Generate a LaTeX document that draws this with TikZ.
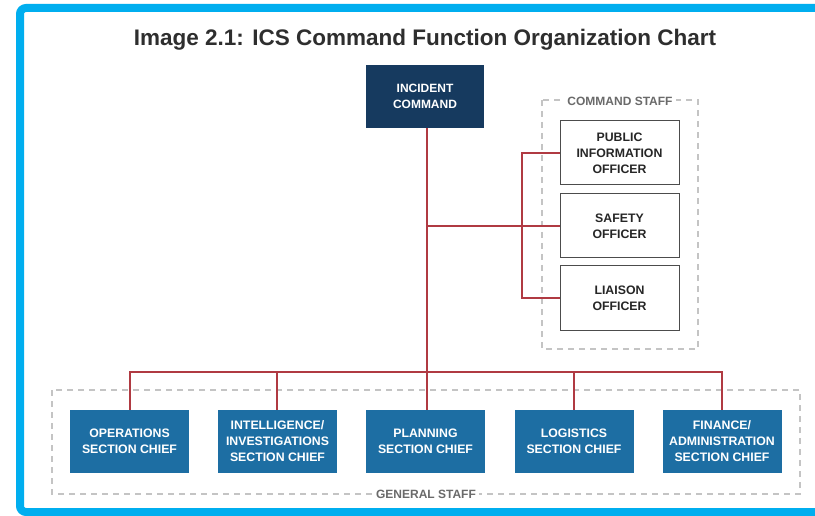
\documentclass[tikz,border=0pt]{standalone}
\usepackage{fontspec}
\setmainfont{Liberation Sans}
\definecolor{frameblue}{HTML}{00AEEF}
\definecolor{navy}{HTML}{163A5F}
\definecolor{secblue}{HTML}{1D6EA3}
\definecolor{linkred}{HTML}{B03A42}
\definecolor{dashgray}{HTML}{C4C4C4}
\definecolor{labgray}{HTML}{6A6A6A}
\definecolor{titlegray}{HTML}{2E2E2E}
\tikzset{
  cmdbox/.style={fill=navy, text=white, font=\fontsize{12}{15.5}\selectfont\bfseries, align=center, inner sep=0pt, minimum width=118pt, minimum height=63pt},
  secbox/.style={fill=secblue, text=white, font=\fontsize{12.3}{16}\selectfont\bfseries, align=center, inner sep=0pt, minimum width=119pt, minimum height=63pt},
  staffbox/.style={draw=black!70, line width=1pt, fill=white, text=black!85, font=\fontsize{12.3}{16}\selectfont\bfseries, align=center, inner sep=0pt, minimum width=119pt, minimum height=64pt},
  grouplab/.style={fill=white, text=labgray, font=\fontsize{12}{13}\selectfont\bfseries, inner xsep=3pt, inner ysep=1pt},
  groupframe/.style={draw=dashgray, line width=1.2pt, dash pattern=on 6pt off 5pt},
  link/.style={draw=linkred, line width=1.5pt},
}
\begin{document}
\begin{tikzpicture}[x=1pt,y=-1pt]
\useasboundingbox (0,0) rectangle (815,516);
\fill[white] (0,0) rectangle (815,516);
% frame
\draw[frameblue, line width=8pt, rounded corners=6pt] (20,8) rectangle (840,512);
% title
\node[font=\fontsize{22.5}{25}\selectfont\bfseries, text=titlegray] (title) at (425,39.5) {Image 2.1: ICS Command Function Organization Chart};
% group frames
\draw[groupframe] (542,100) rectangle (698,349);
\draw[groupframe] (52,390) rectangle (800,494);
\node[grouplab] (cslab) at (620,101) {COMMAND STAFF};
\node[grouplab] (gslab) at (426,494) {GENERAL STAFF};
% nodes
\node[cmdbox] (ic) at (425,96.5) {INCIDENT\\COMMAND};
\node[staffbox] (pio) at (619.5,153) {PUBLIC\\INFORMATION\\OFFICER};
\node[staffbox] (so) at (619.5,226) {SAFETY\\OFFICER};
\node[staffbox] (lo) at (619.5,298) {LIAISON\\OFFICER};
\node[secbox] (ops) at (129.5,441.5) {OPERATIONS\\SECTION CHIEF};
\node[secbox] (intel) at (277.5,441.5) {INTELLIGENCE/\\INVESTIGATIONS\\SECTION CHIEF};
\node[secbox] (plan) at (425.5,441.5) {PLANNING\\SECTION CHIEF};
\node[secbox] (log) at (574,441.5) {LOGISTICS\\SECTION CHIEF};
\node[secbox] (fin) at (722,441.5) {FINANCE/\\ADMINISTRATION\\SECTION CHIEF};
% connectors
\coordinate (jc) at (427,226);
\coordinate (jb) at (427,372);
\coordinate (vs) at (522,226);
\draw[link] (ic.south -| jc) -- (jb);
\draw[link] (jc) -- (so.west);
\draw[link] (pio.west) -| (vs) |- (lo.west);
\draw[link] (ops.north -| 130,0) |- (jb) -| (fin.north -| 722,0);
\draw[link] (intel.north -| 277,0) -- (277,372);
\draw[link] (log.north -| 574,0) -- (574,372);
\draw[link] (plan.north -| jb) -- (jb);
\end{tikzpicture}
\end{document}
